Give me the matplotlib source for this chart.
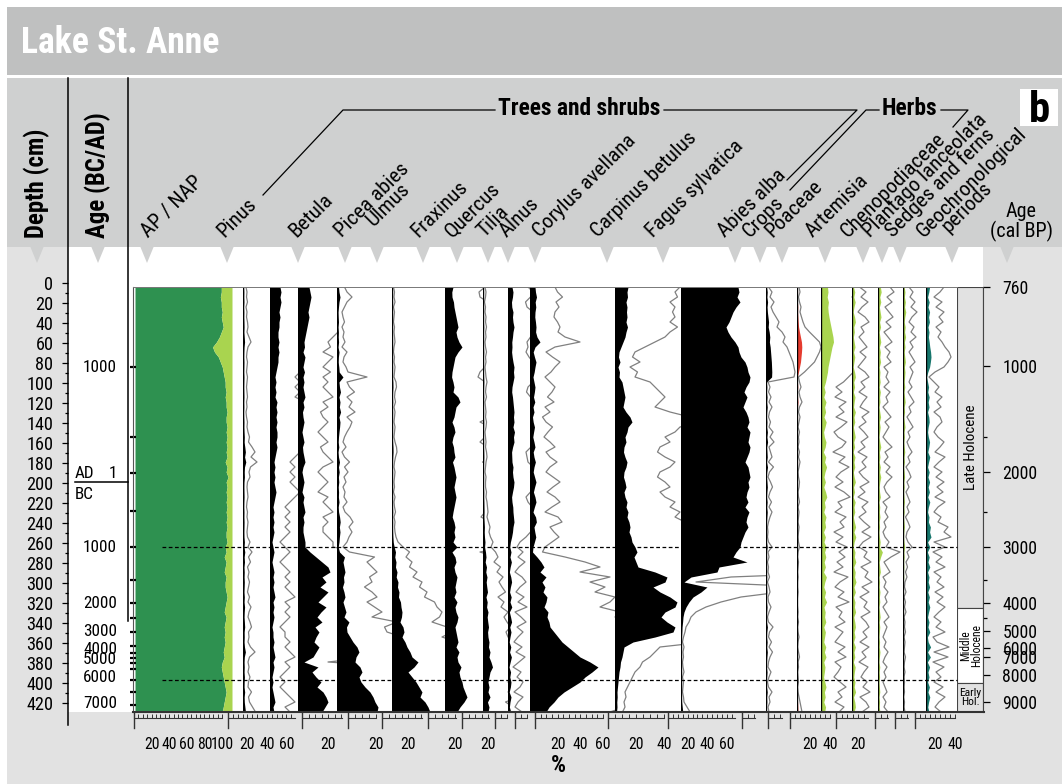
import os
import numpy as np
import matplotlib
matplotlib.use('Agg')
import matplotlib.pyplot as plt
from matplotlib import font_manager as fm
from matplotlib.patches import Rectangle, Polygon

W, H = 1062, 784

# ---------- font selection (prefer a condensed sans like the original) ----------
_files = {os.path.basename(f.fname): f.fname for f in fm.fontManager.ttflist}
_pairs = [('LiberationSansNarrow-Regular.ttf', 'LiberationSansNarrow-Bold.ttf'),
          ('RobotoCondensed-Regular.ttf', 'RobotoCondensed-Bold.ttf'),
          ('NotoSans-Condensed.ttf', 'NotoSans-CondensedBold.ttf'),
          ('NotoSans-SemiCondensed.ttf', 'NotoSans-SemiCondensedBold.ttf'),
          ('OpenSans_Condensed-Regular.ttf', 'OpenSans_Condensed-Bold.ttf'),
          ('DejaVuSansCondensed.ttf', 'DejaVuSansCondensed-Bold.ttf'),
          ('LiberationSans-Regular.ttf', 'LiberationSans-Bold.ttf')]
REG_F, BOLD_F = None, None
for r, b in _pairs:
    if r in _files and b in _files:
        REG_F, BOLD_F = _files[r], _files[b]
        break


def FP(size, bold=False):
    if REG_F is None:
        return fm.FontProperties(family='DejaVu Sans', size=size, weight='bold' if bold else 'normal')
    return fm.FontProperties(fname=BOLD_F if bold else REG_F, size=size)


# ---------------- data ----------------
depth = [4, 9, 14, 19, 24, 29, 34, 39, 44, 49,
         54, 59, 64, 69, 74, 79, 84, 89, 94, 99,
         104, 109, 114, 119, 124, 129, 134, 139, 144, 149,
         154, 159, 164, 169, 174, 179, 184, 189, 194, 199,
         204, 209, 214, 219, 224, 229, 234, 239, 244, 249,
         254, 259, 264, 269, 274, 279, 284, 289, 294, 299,
         304, 309, 314, 319, 324, 329, 334, 339, 344, 349,
         354, 359, 364, 369, 374, 379, 384, 389, 394, 399,
         404, 409, 414, 419, 424, 429]

ap = [89, 89, 88, 89, 89, 90, 89, 90, 91, 89,
      87, 84, 80, 82, 86, 88, 90, 91, 92, 93,
      93, 94, 93, 94, 94, 95, 94, 94, 95, 94,
      95, 94, 95, 94, 95, 93, 95, 94, 96, 94,
      95, 94, 95, 94, 95, 94, 95, 94, 95, 94,
      94, 95, 93, 94, 92, 94, 93, 92, 94, 93,
      93, 94, 95, 94, 93, 92, 94, 93, 92, 93,
      92, 93, 92, 91, 92, 90, 89, 90, 91, 92,
      93, 94, 93, 92, 91, 90]

pinus = [0.6, 0.8, 0.7, 0.9, 0.6, 0.8, 0.7, 0.9, 1.0, 0.8,
         1.2, 1.6, 1.0, 0.8, 0.7, 0.9, 0.8, 0.7, 0.9, 0.8,
         0.7, 0.8, 0.9, 0.7, 0.8, 0.6, 0.7, 0.9, 0.8, 1.0,
         1.3, 1.1, 1.8, 2.4, 1.6, 2.8, 1.5, 1.2, 1.4, 0.9,
         0.8, 0.9, 1.0, 0.8, 0.7, 0.9, 0.8, 1.0, 0.9, 0.8,
         0.9, 1.4, 1.0, 1.8, 1.1, 1.5, 0.9, 1.2, 1.0, 1.3,
         1.1, 0.9, 1.3, 1.0, 1.6, 1.2, 1.0, 1.4, 1.7, 1.1,
         1.2, 1.0, 1.5, 2.4, 1.3, 1.0, 1.2, 1.0, 1.4, 1.1,
         1.0, 1.7, 1.1, 1.3, 1.9, 2.5]
betula = [10, 11, 10, 11, 10, 9, 10, 9, 9, 8,
          8, 9, 8, 9, 8, 8, 7, 6, 5, 6,
          5, 6, 5, 7, 6, 7, 6, 7, 6, 7,
          7, 6, 7, 6, 5, 4, 5, 4, 5, 4,
          5, 6, 5, 4, 3, 4, 3, 4, 3, 4,
          3, 2, 3, 4, 3, 2, 3, 4, 3, 4,
          3, 4, 5, 3, 4, 3, 4, 3, 2, 3,
          3, 4, 3, 4, 5, 3, 4, 3, 2, 3,
          2, 3, 4, 5, 3, 4]
picea = [11, 12, 13, 12, 11, 10, 11, 10, 9, 8,
         7, 6, 6.5, 5, 7, 6, 5, 6.5, 5, 6,
         5, 6, 7, 5, 6, 4.5, 5, 6, 5, 4,
         5, 6, 4.5, 5, 6, 7, 5, 4, 5, 6,
         5, 4, 6, 5, 6, 7, 5, 6, 5, 5,
         6, 7, 7, 12, 18, 24, 30, 32, 24, 28,
         22, 30, 25, 20, 28, 23, 19, 24, 17, 21,
         18, 16, 21, 18, 15, 6, 20, 14, 18, 23,
         19, 25, 28, 30, 27, 24]
ulmus = [1.5, 2, 3, 2, 1.5, 1, 1.2, 1.5, 1, 1.4,
         1.2, 1.6, 1, 2, 1.4, 1.2, 1.8, 2.2, 6, 2,
         2.5, 3.5, 2, 3, 2.4, 3.6, 2, 3, 2.6, 2,
         1.5, 1.2, 1.8, 1, 1.5, 2.5, 1.5, 2.2, 1.4, 1.8,
         1.2, 1.6, 1.4, 2, 1.2, 1.6, 2.6, 3.2, 2.4, 3,
         2.4, 2, 1.2, 2.5, 7.5, 6, 7, 8, 6.5, 7,
         5.5, 7, 8, 6, 7.5, 9, 7, 12, 9.5, 10,
         13, 16, 20, 22, 19, 18, 23, 25, 22, 24,
         28, 33, 36, 38, 41, 40]
fraxinus = [0.3, 0.5, 0.4, 0.6, 0.3, 0.5, 0.4, 0.3, 0.5, 0.4,
            0.5, 0.6, 0.4, 0.3, 0.5, 0.4, 0.6, 0.5, 0.4, 0.8,
            0.9, 0.6, 0.5, 0.7, 0.4, 0.6, 0.5, 0.4, 0.6, 0.5,
            0.4, 0.6, 0.9, 1.0, 0.7, 0.5, 0.4, 0.6, 0.5, 0.4,
            0.5, 0.3, 0.6, 0.4, 0.5, 0.7, 0.4, 0.6, 0.5, 0.6,
            0.8, 1.2, 2.2, 3.5, 2.8, 4, 3.5, 5, 4.2, 6,
            5.5, 7, 6.5, 8.5, 9, 10, 9.5, 8, 11, 12,
            10, 13, 15, 18, 20, 26, 22, 16, 20, 24,
            27, 30, 28, 33, 36, 38]
quercus = [8, 6.8, 7, 8.5, 9, 10, 11, 12, 13, 11,
           12, 14, 17, 13, 10, 9, 8, 7, 6.6, 8,
           9, 8, 13, 15, 11, 10, 9, 7, 9, 10,
           8, 7, 8.5, 9, 10, 7.5, 9, 10, 11, 10,
           9, 10, 11, 10, 9, 8, 7.2, 9, 10, 9,
           10, 8, 12, 7, 10, 11, 9, 10, 12, 11,
           10, 11, 9, 12, 10, 11, 13, 12, 10, 11,
           12, 13, 11, 14, 12, 13, 16, 14, 15, 17,
           18, 20, 22, 19, 15, 12]
tilia = [0.4, 0.6, 0.5, 0.3, 0.5, 0.4, 0.6, 0.5, 0.7, 0.5,
         0.6, 0.4, 0.5, 0.7, 0.5, 0.6, 0.4, 0.5, 0.6, 0.8,
         0.6, 0.5, 0.7, 0.4, 0.5, 0.6, 0.5, 0.7, 0.6, 0.4,
         0.5, 0.6, 0.5, 0.7, 0.8, 0.6, 0.5, 0.4, 0.6, 0.5,
         0.5, 0.7, 0.6, 0.8, 0.9, 1.0, 0.8, 1.1, 1.4, 1.2,
         1.5, 2, 1.6, 2.5, 3, 2.2, 3.5, 2.8, 4, 3.2,
         3.8, 4.5, 3, 4.2, 3.6, 5, 4.2, 4.8, 5.5, 4.6,
         5, 6, 5.5, 7, 6, 8, 9.5, 7, 6, 5,
         6, 5, 7, 4.5, 6, 5]
alnus = [4, 5, 4.5, 3.5, 3.8, 5, 4.5, 5, 6, 5,
         4.5, 3.8, 4, 3.6, 4.2, 5, 6, 5.5, 6, 5,
         4, 3.7, 4.5, 5, 5.5, 6, 5.5, 6, 5, 6.5,
         5.5, 6, 4.6, 3.6, 3.8, 4, 5, 4.5, 5, 6,
         5.5, 4.5, 3.6, 4, 4.8, 5, 5.5, 6, 5, 4.5,
         3.6, 2.4, 1.8, 3, 2, 3.4, 2.2, 1.4, 2.8, 3.6,
         2.4, 1.6, 3.2, 2, 3.8, 1.4, 2.6, 3.6, 1.8, 3,
         2, 1.2, 2.8, 1.6, 3.4, 2.2, 1, 2.6, 1.8, 3,
         2.4, 1.2, 3, 2, 1.4, 2.8]
corylus = [5, 5.5, 6.5, 5.2, 5.8, 5, 4.8, 5.5, 6, 5.6,
           7, 10, 5, 3.2, 4.5, 6, 5, 4.2, 3, 4,
           5, 4.4, 3.5, 4.8, 3, 4, 2.5, 3.2, 4.5, 3.6,
           2.8, 4, 5, 3.2, 4, 5.4, 4, 3.2, 4.6, 6,
           4.6, 3.4, 5, 6, 4.4, 3, 5.6, 6.4, 4, 4.8,
           5.8, 4.4, 3, 2.5, 7, 11, 14, 10, 16, 12,
           15, 13, 17, 16, 14, 18, 17, 19, 20, 24,
           28, 32, 38, 44, 50, 60, 68, 62, 55, 50,
           42, 34, 28, 24, 19, 16]
carpinus = [13, 12, 12.5, 11, 12, 11.5, 12, 11, 12.5, 11,
            10, 8, 6, 4, 3.5, 5, 3, 4.5, 4, 7,
            8, 9, 10, 9, 8, 11, 15, 17, 13, 12,
            10, 11, 9, 8.5, 10, 12, 11, 9, 8.5, 10,
            11, 9, 10, 12, 11, 13, 12, 14, 15, 14,
            16, 17, 20, 22, 19, 21, 23, 40, 52, 50,
            38, 45, 55, 62, 60, 50, 46, 52, 60, 58,
            40, 18, 9, 8, 7, 5.5, 5, 4, 3.5, 3,
            2.5, 2, 2.2, 1.8, 2, 1.5]
fagus = [57, 58, 56, 59, 55, 52, 50, 48, 45, 47,
         50, 54, 57, 58, 60, 64, 66, 67, 69, 68,
         65, 63, 66, 64, 62, 65, 67, 68, 66, 69,
         68, 67, 69, 68, 66, 64, 67, 68, 69, 67,
         68, 66, 65, 67, 64, 68, 66, 65, 67, 64,
         62, 60, 59, 55, 52, 66, 38, 36, 10, 3,
         26, 20, 12, 8, 5, 3, 2, 1.6, 1, 0.8,
         0.5, 0.3, 0.6, 0.4, 0.5, 0.3, 0.4, 0.6, 0.3, 0.5,
         0.4, 0.3, 0.5, 0.6, 1.2, 1.8]
abies = [0.5, 1.2, 0.8, 1.6, 1, 1.4, 2, 2.6, 2.2, 3.2,
         3.8, 3.4, 4.2, 4.6, 5, 5.4, 5.6, 5.8, 5.6, 0.4,
         0.8, 0.5, 1.0, 0.6, 1.2, 0.7, 0.5, 0.9, 0.6, 1.4,
         0.8, 1.6, 0.6, 0.9, 1.2, 0.5, 1.5, 0.7, 0.4, 0.9,
         1.3, 0.8, 0.5, 1.1, 0.6, 1.2, 0.8, 0.5, 0.3, 0.4,
         0.3, 0.5, 1.2, 0.4, 0.6, 0.3, 0.5, 0.4, 0.7, 0.3,
         0.6, 0.8, 0.4, 0.5, 1.0, 0.6, 0.3, 0.5, 1.4, 0.7,
         0.5, 1.1, 0.6, 1.3, 0.8, 0.5, 0.4, 1.0, 0.6, 0.3,
         0.5, 1.2, 0.6, 0.8, 0.4, 0.6]
crops = [0.4, 0.6, 0.3, 0.5, 0.8, 0.6, 0.9, 1.2, 1.6, 2.5,
         3.5, 4.5, 4.8, 4.5, 4, 3.5, 2.5, 1.5, 0.3, 0.5,
         0.8, 0.4, 0.6, 1.0, 0.5, 0.3, 0.6, 0.4, 0.2, 0.5,
         0.3, 0.4, 0.2, 0.5, 0.3, 0.6, 0.4, 0.2, 0.3, 0.5,
         0.4, 0.2, 0.3, 0.5, 0.2, 0.4, 0.3, 0.2, 0.4, 0.3,
         0.2, 0.3, 0.5, 0.2, 0.1, 0.3, 0.2, 0.1, 0.2, 0.1,
         0.1, 0.2, 0.1, 0.0, 0.1, 0.2, 0.1, 0.3, 0.1, 0.2,
         0.4, 0.2, 0.1, 0.3, 0.5, 0.2, 0.3, 0.1, 0.2, 0.3,
         0.1, 0.2, 0.4, 0.6, 0.8, 1.0]
poaceae = [6.5, 7, 6.2, 7.4, 6.8, 7.2, 8, 9, 10, 11,
           12, 12.5, 11, 10, 9, 8, 7, 6.5, 5.5, 4.5,
           3, 4.2, 2.8, 5, 3.6, 4.6, 3, 5.2, 4, 2.6,
           3.4, 5, 4.2, 2.4, 4.8, 3.6, 5.6, 4, 3, 4.4,
           2.8, 4.6, 5.8, 3.4, 4.2, 2.8, 5, 3.8, 4.6, 2.6,
           4.4, 3, 5.2, 3.6, 4.8, 3.2, 4.4, 2.6, 5.4, 3.8,
           2.8, 4.6, 3.4, 5.6, 3, 4.2, 3.6, 4.8, 2.8, 4.4,
           3.6, 2.8, 4.8, 3.4, 5, 2.8, 4, 3.4, 2.6, 3.8,
           5, 3.4, 4.2, 2.8, 4.6, 3.6]
artemisia = [1.5, 2.8, 1.8, 3.2, 2, 1.2, 2.6, 3.4, 1.8, 2.4,
             1.4, 2.2, 3, 1.6, 2.8, 2, 1.2, 2.6, 3.4, 1.8,
             2.6, 1.4, 3, 2.2, 1.6, 3.4, 2, 2.8, 1.4, 2.4,
             3.2, 1.8, 2.6, 1.2, 3, 2, 2.8, 1.4, 2.2, 3.4,
             1.6, 2.6, 1.2, 3.2, 2, 2.8, 1.4, 2.4, 3.6, 2,
             3.8, 2.2, 1.4, 3, 2.4, 3.8, 1.8, 3.2, 2.6, 4,
             2, 3.4, 1.6, 3, 2.4, 3.6, 1.8, 2.8, 3.4, 2.2,
             3, 1.6, 3.4, 2, 2.8, 1.4, 3.2, 2.4, 1.8, 3,
             2.2, 3.6, 1.6, 2.8, 3.4, 2]
chenopod = [2.4, 3.2, 1.8, 2.8, 1.4, 2.2, 3, 1.6, 2.6, 1.2,
            2, 2.8, 1.4, 2.4, 1.8, 2.6, 1.2, 2, 1.6, 2.2,
            1.2, 2.4, 1.6, 2, 1, 1.8, 2.6, 1.4, 2.2, 1.6,
            1, 1.8, 2.8, 1.4, 2, 1.2, 2.4, 1.6, 2.8, 1.8,
            1.2, 1.6, 2.4, 1, 1.8, 1.4, 2, 1.2, 1.6, 1,
            1.4, 2.2, 1.6, 4.4, 2.6, 1.2, 1.8, 2.4, 1, 1.6,
            1.2, 2, 1.4, 1.8, 1, 1.6, 2.2, 1.2, 1.8, 1.4,
            1, 1.6, 1.2, 2, 1.4, 1, 1.8, 1.2, 1.6, 1,
            1.4, 1.8, 1, 1.6, 1.2, 2]
plantago = [1.2, 2, 1.4, 2.4, 1.6, 2.8, 1.8, 1.2, 2.2, 1.6,
            2.6, 1.4, 2, 1.2, 1.8, 2.4, 1.4, 2, 1.6, 1.2,
            1.8, 1, 1.6, 2.2, 1.2, 1.6, 0.8, 1.4, 2, 1,
            1.4, 0.8, 1.2, 1.8, 1, 1.4, 0.6, 1.2, 1.6, 0.8,
            1.2, 0.6, 1, 1.4, 0.8, 1.2, 0.5, 1, 1.4, 0.8,
            0.6, 1, 1.8, 0.8, 1.2, 0.6, 0.9, 0.5, 0.8, 0.4,
            0.3, 0.6, 0.2, 0.5, 0.3, 0.6, 0.2, 0.4, 0.3, 0.5,
            0.2, 0.4, 0.3, 0.2, 0.5, 0.3, 0.2, 0.4, 0.2, 0.3,
            0.2, 0.3, 0.1, 0.3, 0.2, 0.4]
sedges = [3.6, 2.8, 1.6, 3.2, 2, 3.6, 2.6, 3.4, 2, 3,
          2.4, 3.2, 3.8, 4.6, 5, 4.4, 3.6, 1.8, 0.6, 1.6,
          2.6, 1.8, 3.2, 2.2, 3, 1.6, 2.8, 3.2, 2.2, 1.6,
          2.4, 3.6, 2.8, 1.8, 3.8, 2.6, 1.6, 3.2, 2, 3.6,
          2.2, 3.4, 1.8, 3.8, 2.4, 1.6, 3, 2.4, 4.4, 3.6,
          5, 1.6, 3.8, 1.4, 3.2, 2, 3.8, 1.6, 3, 2.2,
          3.6, 1.8, 3.4, 2.2, 3.8, 2.6, 1.6, 3, 2, 3.8,
          1.4, 2.2, 4.6, 1.6, 4.4, 1.4, 3.6, 2, 3, 1.6,
          3.4, 2, 3.8, 2.6, 1.8, 3]

taxa = ['Pinus', 'Betula', 'Picea abies', 'Ulmus', 'Fraxinus', 'Quercus', 'Tilia',
        'Alnus', 'Corylus avellana', 'Carpinus betulus', 'Fagus sylvatica',
        'Abies alba', 'Crops', 'Poaceae', 'Artemisia', 'Chenopodiaceae',
        'Plantago lanceolata', 'Sedges and ferns']
series = [pinus, betula, picea, ulmus, fraxinus, quercus, tilia, alnus, corylus,
          carpinus, fagus, abies, crops, poaceae, artemisia, chenopod, plantago, sedges]

zone_bounds = [264, 397]
periods = [('Late Holocene', 4, 325), ('Middle\nHolocene', 325, 400), ('Early\nHol.', 400, 429)]
calbp_depth = [4, 83, 189, 264, 320, 348, 365, 374, 392, 419]
calbp_label = ['760', '1000', '2000', '3000', '4000', '5000', '6000', '7000', '8000', '9000']
calbp_minor = [154, 229, 297, 335]
bcad_tick_depth = [84, 154, 190, 228, 264, 297, 320, 335, 349, 363, 370, 375, 380, 386, 397, 409, 422]
bcad_label = ['1000', '1', '1000', '2000', '3000', '4000', '5000', '6000', '7000']
bcad_label_depth = [84, 190, 264, 320, 349, 366, 377, 394, 420]

# ---------------- layout (pixels) ----------------
EXAG = 5
zero_x = [243, 270, 298, 337, 392, 445, 483, 508, 530, 615, 681, 766, 797, 821, 852, 878, 903, 926, 957]
fill_col = ['k'] * 12 + ['#e53b2e', '#a9d44f', '#a9d44f', '#a9d44f', '#a9d44f', '#17766c']
DG, LG = '#2e9150', '#a9d44f'
TOP, BOT = 287, 712
D0, D1 = 4, 429

fig = plt.figure(figsize=(W / 100, H / 100), dpi=100)
REN = fig.canvas.get_renderer()


def fit(text, target_px, bold=False):
    """font size (pt) giving the text a rendered width of target_px"""
    t = fig.text(0, 0, text, fontproperties=FP(20, bold))
    w = t.get_window_extent(REN).width
    t.remove()
    return 20 * target_px / w


S_TITLE = fit('Lake St. Anne', 198, True)
S_GROUP = fit('Trees and shrubs', 162, True)
S_AXT = fit('Depth (cm)', 109, True)
S_TAXA = fit('Corylus avellana', 136)
S_DEPTH = fit('420', 27)
S_AGE = fit('7000', 34)
S_CAL = fit('9000', 35)
S_RUL = fit('20', 15.5)
S_PCT = fit('%', 15, True)
S_CALT = fit('(cal BP)', 63)
S_LATE = fit('Late Holocene', 85)
S_MID = fit('Holocene', 43)
S_EARLY = fit('Early', 22)


def pax(x0, y0, x1, y1, z=1):
    return fig.add_axes([x0 / W, 1 - y1 / H, (x1 - x0) / W, (y1 - y0) / H], zorder=z)


def style_ticklabels(ax, size):
    for lab in ax.get_xticklabels() + ax.get_yticklabels():
        lab.set_fontproperties(FP(size))


bg = fig.add_axes([0, 0, 1, 1], zorder=0)
bg.set_xlim(0, W); bg.set_ylim(H, 0); bg.axis('off')
bg.add_patch(Rectangle((7, 7), W - 7, 68, color='#bfc0c0', lw=0))
bg.add_patch(Rectangle((7, 78), W - 7, 169, color='#cfd0d0', lw=0))
bg.add_patch(Rectangle((7, 247), W - 7, H - 247, color='#e2e2e2', lw=0))
bg.add_patch(Rectangle((68, 247), 983 - 68, BOT - 247, color='white', lw=0))
bg.text(21, 43, 'Lake St. Anne', color='white', fontproperties=FP(S_TITLE, True), va='center', ha='left')
bg.plot([68, 68], [78, 725], color='k', lw=1.1, zorder=3)
bg.plot([128, 128], [78, 621], color='k', lw=1.1, zorder=3)

tri_x = [37, 98, 147, 227, 298, 345, 377, 423, 457, 488, 508, 535, 607, 663, 735, 760,
         782, 825, 863, 882, 900, 952, 1007]
for tx in tri_x:
    bg.add_patch(Polygon([(tx - 7, 246), (tx + 7, 246), (tx, 263)], closed=True,
                         color='#cfd0d0', lw=0, zorder=2))

bg.text(37, 238, 'Depth (cm)', rotation=90, fontproperties=FP(S_AXT, True), ha='center', va='bottom')
bg.text(98, 238, 'Age (BC/AD)', rotation=90, fontproperties=FP(S_AXT, True), ha='center', va='bottom')

lab_pos = [(148, 238, 'AP / NAP'), (224, 238, 'Pinus'), (296, 238, 'Betula'),
           (342, 238, 'Picea abies'), (374, 227, 'Ulmus'), (418, 238, 'Fraxinus'),
           (452, 238, 'Quercus'), (484, 238, 'Tilia'), (507, 238, 'Alnus'),
           (540, 238, 'Corylus avellana'), (598, 238, 'Carpinus betulus'),
           (653, 238, 'Fagus sylvatica'), (725, 238, 'Abies alba'), (750, 238, 'Crops'),
           (772, 238, 'Poaceae'), (813, 238, 'Artemisia'), (848, 238, 'Chenopodiaceae'),
           (870, 238, 'Plantago lanceolata'), (893, 238, 'Sedges and ferns'),
           (924, 238, 'Geochronological'), (949, 233, 'periods')]
for lx, ly, lt in lab_pos:
    bg.text(lx, ly, lt, rotation=45, rotation_mode='anchor', ha='left', va='baseline',
            fontproperties=FP(S_TAXA))
bg.text(1021, 222, 'Age\n(cal BP)', ha='center', va='center', fontproperties=FP(S_CALT), linespacing=1.0)

bg.text(579, 108, 'Trees and shrubs', ha='center', va='center', fontproperties=FP(S_GROUP, True))
bg.text(909, 108, 'Herbs', ha='center', va='center', fontproperties=FP(S_GROUP, True))
for pts in ([(263, 195), (343, 110), (495, 110)], [(664, 110), (857, 110), (787, 180)],
            [(879, 110), (866, 110), (790, 190)], [(941, 110), (968, 110), (953, 127)]):
    xs, ys = zip(*pts)
    bg.plot(xs, ys, color='k', lw=0.9)
bg.add_patch(Rectangle((1020, 89), 38, 37, color='white', lw=0))
bg.text(1039, 110, 'b', ha='center', va='center', fontproperties=FP(31, True))

# AD / BC marker
bg.plot([75, 128], [482, 482], color='k', lw=1.1)
bg.text(75, 473, 'AD', ha='left', va='center', fontproperties=FP(S_AGE))
bg.text(75, 494, 'BC', ha='left', va='center', fontproperties=FP(S_AGE))
for lbl, d in zip(bcad_label, bcad_label_depth):
    bg.text(117, 283 + d, lbl, ha='right', va='center', fontproperties=FP(S_AGE))

# ---------------- depth axis ----------------
dax = pax(68, 275, 69, 725, z=1)
dax.set_ylim(442, -8)
dax.patch.set_alpha(0)
for s in dax.spines.values():
    s.set_visible(False)
dax.set_xticks([])
dax.set_yticks(list(range(0, 421, 20)))
dax.set_yticks(list(range(10, 430, 20)), minor=True)
dax.tick_params(axis='y', which='major', length=4.5, width=0.9, pad=6)
dax.tick_params(axis='y', which='minor', length=2.5, width=0.9)
style_ticklabels(dax, S_DEPTH)

# ---------------- AP / NAP panel ----------------
ax = pax(135, TOP, 232, BOT, z=2)
ax.set_xlim(0, 100); ax.set_ylim(D1, D0); ax.axis('off')
ax.fill_betweenx(depth, 0, ap, color=DG, lw=0)
ax.fill_betweenx(depth, ap, 100, color=LG, lw=0)

aax = pax(133, TOP, 134, BOT, z=3)
aax.set_ylim(D1, D0); aax.patch.set_alpha(0)
for k, s in aax.spines.items():
    s.set_visible(k == 'left')
aax.spines['left'].set_color('#555555'); aax.spines['left'].set_linewidth(0.8)
aax.set_xticks([])
aax.set_yticks(bcad_tick_depth)
aax.set_yticklabels([])
aax.tick_params(axis='y', direction='inout', length=5, width=1.6, color='k')

# ---------------- taxon panels ----------------
for i, vals in enumerate(series):
    x0, x1 = zero_x[i], zero_x[i + 1]
    ax = pax(x0, TOP, x1, BOT, z=2)
    ax.set_xlim(0, x1 - x0); ax.set_ylim(D1, D0); ax.axis('off'); ax.patch.set_alpha(0)
    v = np.array(vals, dtype=float)
    ax.plot(v * EXAG, depth, color='#808080', lw=0.9, zorder=1)
    ax.fill_betweenx(depth, 0, v, color=fill_col[i], lw=0, zorder=2)
    ax.axvline(0, color='k', lw=1.7, zorder=3)

# ---------------- geochronological column & cal BP axis ----------------
gax = pax(957, TOP, 983, BOT, z=2)
gax.set_xlim(0, 1); gax.set_ylim(D1, D0)
gax.patch.set_alpha(0)
for k, s in gax.spines.items():
    s.set_visible(k == 'right')
gax.spines['right'].set_color('#444444')
gax.set_xticks([])
for (name, a, b), fc in zip(periods, ['#e2e2e2', 'white', '#e2e2e2']):
    gax.add_patch(Rectangle((0, a), 1, b - a, facecolor=fc, edgecolor='#444444', lw=0.8))
    if name.startswith('Late'):
        gax.text(0.55, (a + b) / 2, name, rotation=90, ha='center', va='center', fontproperties=FP(S_LATE))
    elif name.startswith('Middle'):
        gax.text(0.55, (a + b) / 2, name, rotation=90, ha='center', va='center',
                 fontproperties=FP(S_MID), linespacing=0.85)
    else:
        gax.text(0.5, (a + b) / 2, name, ha='center', va='center', fontproperties=FP(S_EARLY),
                 linespacing=0.9)
gax.yaxis.tick_right()
gax.set_yticks(calbp_depth)
gax.set_yticklabels(calbp_label)
gax.set_yticks(calbp_minor, minor=True)
gax.tick_params(axis='y', which='major', length=5, width=0.9, pad=9)
gax.tick_params(axis='y', which='minor', length=3, width=0.9)
style_ticklabels(gax, S_CAL)

# ---------------- foreground lines ----------------
fg = fig.add_axes([0, 0, 1, 1], zorder=6)
fg.set_xlim(0, W); fg.set_ylim(H, 0); fg.axis('off'); fg.patch.set_alpha(0)
fg.plot([133, 957], [TOP, TOP], color='#777777', lw=0.7)
fg.plot([133, 984], [BOT, BOT], color='#333333', lw=1.5)
for zb in zone_bounds:
    fg.plot([162, 957], [283 + zb, 283 + zb], color='k', lw=0.9, ls=(0, (3, 2)))

# ---------------- bottom rulers ----------------
rulers = [(134, 0.88, 100, [20, 40, 60, 80, 100]), (228, 0.975, 69, [20, 40, 60]),
          (302, 1.3, 31, [20]), (348, 1.4, 20, [20]), (382, 1.3, 31, [20]),
          (428, 1.35, 21, [20]), (462, 1.3, 21, [20]), (495, 1.2, 10, []),
          (515, 1.2, 10, []), (535, 1.13, 60, [20, 40, 60]), (608, 1.4, 40, [20, 40]),
          (668, 0.98, 68, [20, 40, 60]), (742, 1.2, 11, []), (768, 1.2, 12, []),
          (790, 1.0, 40, [20, 40]), (836, 1.1, 29, [20]), (875, 1.2, 11, []),
          (895, 1.2, 11, []), (915, 1.0, 40, [20, 40])]
for start, sc, mx, labs in rulers:
    rax = pax(start, BOT, start + mx * sc, 718, z=5)
    rax.set_xlim(0, mx); rax.patch.set_alpha(0)
    for k, s in rax.spines.items():
        s.set_visible(k == 'bottom')
    rax.spines['bottom'].set_color('#333333'); rax.spines['bottom'].set_linewidth(0.8)
    rax.set_yticks([])
    rax.set_xticks(labs)
    rax.set_xticks(list(range(5, int(mx) + 1, 5)), minor=True)
    rax.tick_params(axis='x', which='both', direction='in', length=3, width=0.7, color='#333333')
    rax.tick_params(axis='x', which='major', pad=14)
    style_ticklabels(rax, S_RUL)
    fg.plot([start, start], [BOT, 728], color='#333333', lw=1.0)
fg.text(558, 765, '%', ha='center', va='center', fontproperties=FP(S_PCT, True))

fig.savefig('out.png', dpi=100)
